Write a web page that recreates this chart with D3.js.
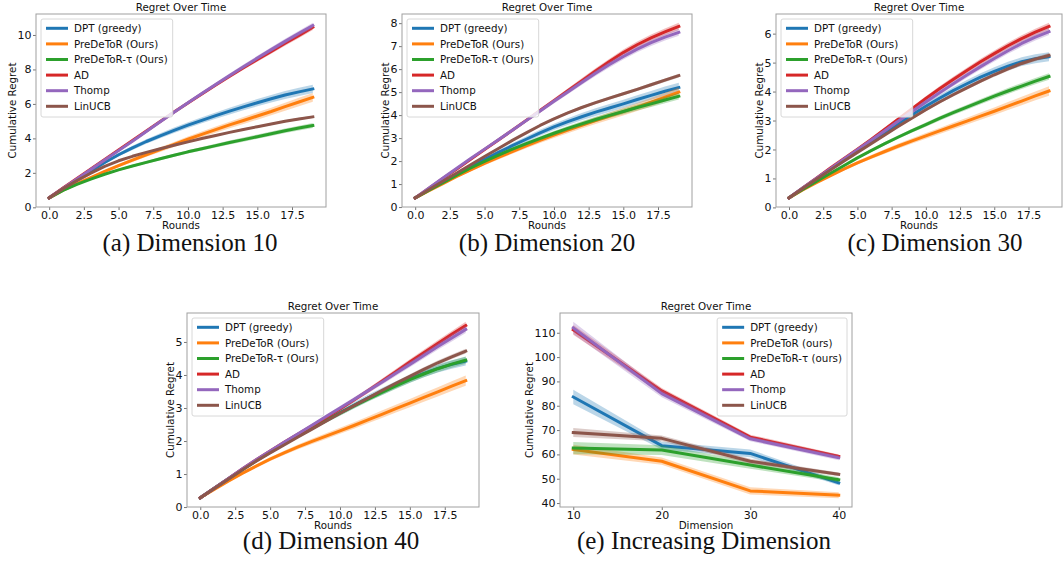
<!DOCTYPE html>
<html>
<head>
<meta charset="utf-8">
<script src="https://cdn.jsdelivr.net/npm/d3@7"></script>
<style>
  body { margin: 0; background: #fff; }
  svg { display: block; font-family: "DejaVu Sans", sans-serif; }
</style>
</head>
<body>
<div id="chart-area"></div>
<script>
//nomes das séries e cores (tab10 do matplotlib)
const seriesNames = ['DPT (greedy)', 'PreDeToR (Ours)', 'PreDeToR-τ (Ours)', 'AD', 'Thomp', 'LinUCB'];
const seriesNamesLower = ['DPT (greedy)', 'PreDeToR (ours)', 'PreDeToR-τ (ours)', 'AD', 'Thomp', 'LinUCB'];
const colours = ['#1f77b4', '#ff7f0e', '#2ca02c', '#d62728', '#9467bd', '#8c564b'];

//eixo x dos paineis (a)-(d)
const rounds = [0, 1, 2, 3, 4, 5, 6, 7, 8, 9, 10, 11, 12, 13, 14, 15, 16, 17, 18, 19];
const roundTicks = [0, 2.5, 5, 7.5, 10, 12.5, 15, 17.5];

//(a) dimensão 10
const d10DPT = [0.55, 1.1, 1.6, 2.1, 2.6, 3.05, 3.45, 3.82, 4.15, 4.47, 4.77, 5.05, 5.32, 5.58, 5.83, 6.07, 6.3, 6.52, 6.7, 6.87];
const d10PreDeToR = [0.55, 1.0, 1.38, 1.73, 2.08, 2.42, 2.74, 3.05, 3.35, 3.65, 3.95, 4.23, 4.51, 4.78, 5.04, 5.3, 5.56, 5.84, 6.11, 6.38];
const d10PreDeToRTau = [0.55, 0.98, 1.33, 1.64, 1.92, 2.17, 2.4, 2.61, 2.82, 3.02, 3.22, 3.4, 3.58, 3.76, 3.93, 4.1, 4.27, 4.44, 4.6, 4.75];
const d10AD = [0.55, 1.12, 1.68, 2.23, 2.78, 3.33, 3.88, 4.43, 4.98, 5.53, 6.06, 6.58, 7.1, 7.6, 8.1, 8.58, 9.05, 9.52, 9.98, 10.45];
const d10Thomp = [0.55, 1.1, 1.65, 2.19, 2.74, 3.29, 3.84, 4.4, 4.96, 5.52, 6.07, 6.6, 7.13, 7.65, 8.16, 8.66, 9.15, 9.63, 10.1, 10.55];
const d10LinUCB = [0.55, 1.08, 1.55, 1.98, 2.38, 2.7, 2.96, 3.19, 3.4, 3.6, 3.8, 3.99, 4.17, 4.35, 4.52, 4.68, 4.84, 4.99, 5.13, 5.25];
//largura relativa da faixa (meia largura / valor)
const d10Spread = [0.035, 0.04, 0.03, 0.015, 0.015, 0.012];
const d10Ticks = [0, 2, 4, 6, 8, 10];

//(b) dimensão 20
const d20DPT = [0.4, 0.74, 1.08, 1.42, 1.76, 2.08, 2.38, 2.67, 2.95, 3.23, 3.49, 3.72, 3.93, 4.13, 4.31, 4.49, 4.68, 4.86, 5.04, 5.2];
const d20PreDeToR = [0.4, 0.71, 1.02, 1.33, 1.62, 1.9, 2.16, 2.41, 2.66, 2.9, 3.13, 3.35, 3.56, 3.76, 3.96, 4.15, 4.35, 4.56, 4.78, 5.0];
const d20PreDeToRTau = [0.4, 0.73, 1.06, 1.39, 1.7, 1.99, 2.26, 2.52, 2.76, 2.99, 3.21, 3.42, 3.62, 3.81, 3.99, 4.16, 4.33, 4.49, 4.66, 4.82];
const d20AD = [0.4, 0.82, 1.24, 1.66, 2.08, 2.5, 2.92, 3.34, 3.77, 4.2, 4.63, 5.06, 5.49, 5.92, 6.33, 6.72, 7.06, 7.36, 7.62, 7.86];
const d20Thomp = [0.4, 0.83, 1.26, 1.69, 2.11, 2.52, 2.93, 3.34, 3.76, 4.18, 4.6, 5.01, 5.42, 5.82, 6.2, 6.55, 6.87, 7.15, 7.39, 7.6];
const d20LinUCB = [0.4, 0.76, 1.12, 1.48, 1.84, 2.2, 2.55, 2.9, 3.23, 3.55, 3.84, 4.1, 4.33, 4.54, 4.74, 4.93, 5.12, 5.32, 5.52, 5.72];
const d20Spread = [0.04, 0.04, 0.03, 0.02, 0.02, 0.014];
const d20Ticks = [0, 1, 2, 3, 4, 5, 6, 7, 8];

//(c) dimensão 30
const d30DPT = [0.33, 0.66, 0.99, 1.32, 1.64, 1.96, 2.28, 2.59, 2.9, 3.2, 3.49, 3.77, 4.03, 4.27, 4.5, 4.7, 4.88, 5.03, 5.13, 5.2];
const d30PreDeToR = [0.33, 0.6, 0.85, 1.09, 1.32, 1.54, 1.74, 1.93, 2.12, 2.3, 2.47, 2.64, 2.81, 2.98, 3.15, 3.32, 3.5, 3.67, 3.85, 4.02];
const d30PreDeToRTau = [0.33, 0.62, 0.9, 1.17, 1.44, 1.71, 1.96, 2.2, 2.43, 2.65, 2.86, 3.07, 3.27, 3.46, 3.65, 3.84, 4.02, 4.19, 4.36, 4.52];
const d30AD = [0.33, 0.67, 1.01, 1.35, 1.68, 2.01, 2.35, 2.7, 3.05, 3.41, 3.76, 4.1, 4.42, 4.73, 5.03, 5.31, 5.58, 5.83, 6.05, 6.25];
const d30Thomp = [0.33, 0.67, 1.0, 1.33, 1.66, 1.99, 2.32, 2.65, 2.98, 3.31, 3.64, 3.96, 4.27, 4.57, 4.86, 5.14, 5.41, 5.66, 5.88, 6.07];
const d30LinUCB = [0.33, 0.65, 0.97, 1.28, 1.59, 1.9, 2.2, 2.5, 2.8, 3.09, 3.37, 3.64, 3.89, 4.13, 4.36, 4.58, 4.78, 4.97, 5.12, 5.25];
const d30Spread = [0.03, 0.04, 0.025, 0.02, 0.02, 0.015];
const d30Ticks = [0, 1, 2, 3, 4, 5, 6];

//(d) dimensão 40
const d40DPT = [0.28, 0.57, 0.86, 1.14, 1.41, 1.67, 1.92, 2.16, 2.4, 2.63, 2.86, 3.08, 3.3, 3.5, 3.7, 3.88, 4.05, 4.2, 4.32, 4.42];
const d40PreDeToR = [0.28, 0.53, 0.78, 1.02, 1.24, 1.45, 1.64, 1.82, 1.99, 2.15, 2.31, 2.47, 2.64, 2.81, 2.98, 3.15, 3.32, 3.49, 3.66, 3.83];
const d40PreDeToRTau = [0.28, 0.57, 0.85, 1.13, 1.4, 1.66, 1.91, 2.15, 2.39, 2.62, 2.84, 3.06, 3.27, 3.47, 3.67, 3.86, 4.03, 4.19, 4.33, 4.45];
const d40AD = [0.28, 0.57, 0.86, 1.15, 1.43, 1.7, 1.96, 2.21, 2.46, 2.71, 2.97, 3.24, 3.52, 3.81, 4.1, 4.39, 4.67, 4.95, 5.23, 5.5];
const d40Thomp = [0.28, 0.57, 0.86, 1.15, 1.43, 1.7, 1.96, 2.22, 2.48, 2.74, 3.0, 3.26, 3.52, 3.78, 4.05, 4.32, 4.59, 4.86, 5.12, 5.38];
const d40LinUCB = [0.28, 0.56, 0.84, 1.12, 1.39, 1.64, 1.88, 2.12, 2.36, 2.6, 2.84, 3.07, 3.3, 3.53, 3.75, 3.96, 4.17, 4.37, 4.55, 4.72];
const d40Spread = [0.03, 0.04, 0.025, 0.02, 0.02, 0.015];
const d40Ticks = [0, 1, 2, 3, 4, 5];

//(e) dimensão crescente
const dims = [10, 20, 30, 40];
const incDPT = [83.6, 63.6, 60.4, 48.3];
const incPreDeToR = [62.0, 57.2, 45.0, 43.2];
const incPreDeToRTau = [62.6, 61.8, 55.6, 49.6];
const incAD = [111.2, 86.1, 67.1, 59.2];
const incThomp = [112.0, 85.0, 66.4, 58.6];
const incLinUCB = [69.0, 66.6, 57.2, 51.8];
//meia largura das faixas em (e)
const incDPTErr = [3.0, 1.6, 1.6, 1.0];
const incPreDeToRErr = [2.0, 1.5, 1.5, 1.2];
const incPreDeToRTauErr = [2.5, 2.0, 1.5, 1.0];
const incADErr = [2.0, 1.2, 1.0, 0.8];
const incThompErr = [2.5, 1.5, 1.0, 1.0];
const incLinUCBErr = [1.8, 1.2, 1.0, 0.8];
const dimTicks = [10, 20, 30, 40];
const incTicks = [40, 50, 60, 70, 80, 90, 100, 110];

//monta as faixas (valor, inferior, superior) de cada série
function withSpread(values, spreads) {
    return values.map((vals, i) => vals.map(v => ({ v: v, lo: v * (1 - spreads[i]), hi: v * (1 + spreads[i]) })));
}
function withErr(values, errs) {
    return values.map((vals, i) => vals.map((v, j) => ({ v: v, lo: v - errs[i][j], hi: v + errs[i][j] })));
}

const panels = [
    { caption: '(a) Dimension 10', left: 36, right: 326, top: 14, bottom: 207, capX: 190, capY: 251,
      xs: rounds, series: withSpread([d10DPT, d10PreDeToR, d10PreDeToRTau, d10AD, d10Thomp, d10LinUCB], d10Spread),
      xTicks: roundTicks, yTicks: d10Ticks, xFmt: d3.format('.1f'), xLabel: 'Rounds', labels: seriesNames, legendRight: false },
    { caption: '(b) Dimension 20', left: 402, right: 692, top: 14, bottom: 207, capX: 547, capY: 251,
      xs: rounds, series: withSpread([d20DPT, d20PreDeToR, d20PreDeToRTau, d20AD, d20Thomp, d20LinUCB], d20Spread),
      xTicks: roundTicks, yTicks: d20Ticks, xFmt: d3.format('.1f'), xLabel: 'Rounds', labels: seriesNames, legendRight: false },
    { caption: '(c) Dimension 30', left: 776, right: 1062, top: 14, bottom: 207, capX: 935, capY: 251,
      xs: rounds, series: withSpread([d30DPT, d30PreDeToR, d30PreDeToRTau, d30AD, d30Thomp, d30LinUCB], d30Spread),
      xTicks: roundTicks, yTicks: d30Ticks, xFmt: d3.format('.1f'), xLabel: 'Rounds', labels: seriesNames, legendRight: false },
    { caption: '(d) Dimension 40', left: 187, right: 479, top: 313, bottom: 507, capX: 331, capY: 549,
      xs: rounds, series: withSpread([d40DPT, d40PreDeToR, d40PreDeToRTau, d40AD, d40Thomp, d40LinUCB], d40Spread),
      xTicks: roundTicks, yTicks: d40Ticks, xFmt: d3.format('.1f'), xLabel: 'Rounds', labels: seriesNames, legendRight: false },
    { caption: '(e) Increasing Dimension', left: 560, right: 852, top: 313, bottom: 507, capX: 704, capY: 549,
      xs: dims, series: withErr([incDPT, incPreDeToR, incPreDeToRTau, incAD, incThomp, incLinUCB],
                                [incDPTErr, incPreDeToRErr, incPreDeToRTauErr, incADErr, incThompErr, incLinUCBErr]),
      xTicks: dimTicks, yTicks: incTicks, xFmt: d3.format('d'), xLabel: 'Dimension', labels: seriesNamesLower, legendRight: true }
];

const svg = d3.select('#chart-area').append('svg')
    .attr('width', 1063)
    .attr('height', 561);

svg.append('rect').attr('width', 1063).attr('height', 561).attr('fill', '#fff');

panels.forEach(drawPanel);

//desenha um painel no estilo matplotlib
function drawPanel(p) {
    const fontSize = 10.3;
    const tickFont = 11;
    const g = svg.append('g');

    //margens de 5% como no matplotlib
    const xMin = d3.min(p.xs), xMax = d3.max(p.xs);
    const xPad = (xMax - xMin) * 0.05;
    const x = d3.scaleLinear().domain([xMin - xPad, xMax + xPad]).range([p.left, p.right]);

    const yMin = d3.min(p.series, s => d3.min(s, d => d.lo));
    const yMax = d3.max(p.series, s => d3.max(s, d => d.hi));
    const yPad = (yMax - yMin) * 0.05;
    const y = d3.scaleLinear().domain([yMin - yPad, yMax + yPad]).range([p.bottom, p.top]);

    //faixas e linhas
    const area = d3.area()
        .x((d, i) => x(p.xs[i]))
        .y0(d => y(d.lo))
        .y1(d => y(d.hi));
    const line = d3.line()
        .x((d, i) => x(p.xs[i]))
        .y(d => y(d.v));

    p.series.forEach((s, i) => {
        g.append('path')
            .attr('d', area(s))
            .attr('fill', colours[i])
            .attr('fill-opacity', 0.3);
        g.append('path')
            .attr('d', line(s))
            .attr('fill', 'none')
            .attr('stroke', colours[i])
            .attr('stroke-width', 3)
            .attr('stroke-linejoin', 'round')
            .attr('stroke-linecap', 'square');
    });

    //eixos
    const xAxis = g.append('g')
        .attr('transform', `translate(0, ${p.bottom})`)
        .call(d3.axisBottom(x).tickValues(p.xTicks).tickFormat(p.xFmt).tickSize(3).tickPadding(1));
    const yAxis = g.append('g')
        .attr('transform', `translate(${p.left}, 0)`)
        .call(d3.axisLeft(y).tickValues(p.yTicks).tickFormat(d3.format('d')).tickSize(3).tickPadding(1.5));

    [xAxis, yAxis].forEach(ax => {
        ax.select('.domain').remove();
        ax.selectAll('line').attr('stroke', '#777');
        ax.selectAll('text')
            .attr('font-family', '"DejaVu Sans", sans-serif')
            .attr('font-size', tickFont + 'px')
            .attr('fill', '#111');
    });

    //moldura dos eixos
    g.append('rect')
        .attr('x', p.left)
        .attr('y', p.top)
        .attr('width', p.right - p.left)
        .attr('height', p.bottom - p.top)
        .attr('fill', 'none')
        .attr('stroke', '#a0a0a0')
        .attr('stroke-width', 1);

    //título
    g.append('text')
        .attr('x', (p.left + p.right) / 2)
        .attr('y', p.top - 3.5)
        .attr('text-anchor', 'middle')
        .attr('font-size', fontSize + 'px')
        .attr('fill', '#111')
        .text('Regret Over Time');

    //rótulo do eixo x
    g.append('text')
        .attr('x', (p.left + p.right) / 2)
        .attr('y', p.bottom + 22)
        .attr('text-anchor', 'middle')
        .attr('font-size', fontSize + 'px')
        .attr('fill', '#111')
        .text(p.xLabel);

    //rótulo do eixo y, afastado conforme a largura dos ticks
    let tickW = 0;
    yAxis.selectAll('text').each(function() {
        tickW = Math.max(tickW, this.getComputedTextLength());
    });
    const ylx = p.left - 6.5 - tickW;
    g.append('text')
        .attr('transform', `translate(${ylx}, ${(p.top + p.bottom) / 2}) rotate(-90)`)
        .attr('text-anchor', 'middle')
        .attr('font-size', fontSize + 'px')
        .attr('fill', '#111')
        .text('Cumulative Regret');

    //legenda
    const legend = g.append('g');
    const rowH = 15.6;
    const texts = [];
    p.labels.forEach((lab, i) => {
        const t = legend.append('text')
            .attr('x', 33)
            .attr('y', 9.3 + i * rowH)
            .attr('dy', '0.35em')
            .attr('font-size', fontSize + 'px')
            .attr('fill', '#111')
            .text(lab);
        texts.push(t);
        legend.append('line')
            .attr('x1', 5)
            .attr('x2', 27)
            .attr('y1', 9.3 + i * rowH)
            .attr('y2', 9.3 + i * rowH)
            .attr('stroke', colours[i])
            .attr('stroke-width', 3);
    });
    const textW = d3.max(texts, t => t.node().getComputedTextLength());
    const boxW = 33 + textW + 5;
    const boxH = 9.3 + 5 * rowH + 10.7;
    legend.insert('rect', ':first-child')
        .attr('x', 0)
        .attr('y', 0)
        .attr('width', boxW)
        .attr('height', boxH)
        .attr('rx', 2)
        .attr('fill', '#fff')
        .attr('fill-opacity', 0.8)
        .attr('stroke', '#d8d8d8')
        .attr('stroke-width', 1);
    const lx = p.legendRight ? p.right - 5 - boxW : p.left + 5;
    legend.attr('transform', `translate(${lx}, ${p.top + 5})`);

    //legenda da subfigura
    svg.append('text')
        .attr('x', p.capX)
        .attr('y', p.capY)
        .attr('text-anchor', 'middle')
        .attr('font-family', '"Liberation Serif", "Times New Roman", serif')
        .attr('font-size', '25px')
        .attr('fill', '#111')
        .text(p.caption);
}
</script>
</body>
</html>
